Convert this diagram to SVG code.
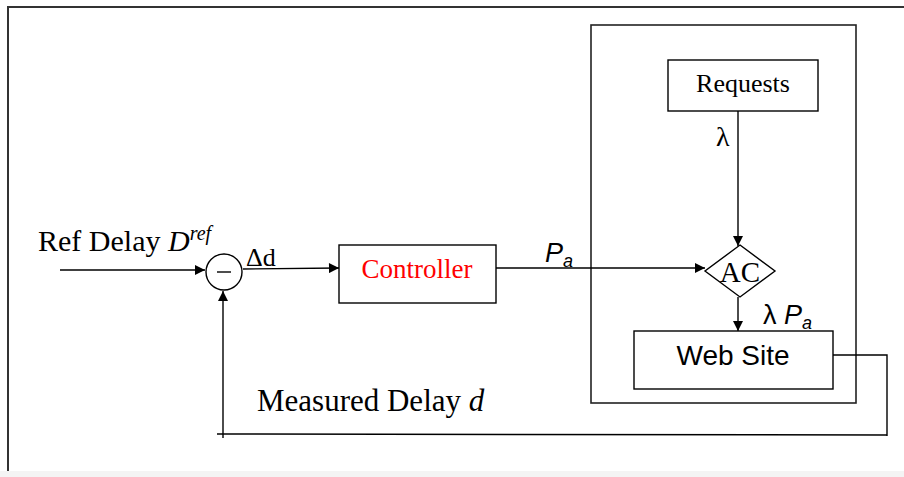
<svg xmlns="http://www.w3.org/2000/svg" width="904" height="477" viewBox="0 0 904 477">
<style>
.box{fill:#fff;stroke:#000;stroke-width:1.4}
.ln{fill:none;stroke:#000;stroke-width:1.4}
.frame{fill:none;stroke:#333;stroke-width:2}
.tr{font-family:"Liberation Serif",serif;fill:#000}
.ar{font-family:"Liberation Sans",sans-serif;fill:#000}
</style>
<defs>
<marker id="ah" viewBox="0 0 10 10" refX="10" refY="5" markerWidth="12" markerHeight="10" markerUnits="userSpaceOnUse" orient="auto">
<path d="M0,0 L10,5 L0,10 z" fill="#000"/>
</marker>
</defs>
<rect x="0" y="0" width="904" height="477" fill="#fff"/>
<rect x="0" y="471" width="904" height="6" fill="#f4f4f4"/>
<path class="frame" d="M8,471 V7 H904"/>
<g id="system">
<rect class="box" x="591" y="25" width="265" height="378" style="stroke:#222;stroke-width:1.6"/>
</g>
<g id="connectors">
<line class="ln" x1="60" y1="270" x2="205" y2="270" marker-end="url(#ah)"/>
<line class="ln" x1="243" y1="269" x2="339" y2="268" marker-end="url(#ah)"/>
<line class="ln" x1="496" y1="268" x2="705" y2="268" marker-end="url(#ah)"/>
<line class="ln" x1="738" y1="111" x2="738" y2="246" marker-end="url(#ah)"/>
<line class="ln" x1="738" y1="297" x2="738" y2="331" marker-end="url(#ah)"/>
<path class="ln" d="M833,355 H887 V436"/>
<line class="ln" x1="887" y1="435" x2="217" y2="434"/>
<line class="ln" x1="223" y1="438" x2="223" y2="291" marker-end="url(#ah)"/>
</g>
<g id="sum">
<circle class="box" cx="224" cy="272" r="18"/>
<line class="ln" x1="217" y1="272" x2="231" y2="272"/>
</g>
<g id="controller">
<rect class="box" x="339" y="245" width="157" height="58"/>
<text class="tr" x="417" y="278" font-size="27" text-anchor="middle" fill="#ff0000" style="fill:#ff0000">Controller</text>
</g>
<g id="requests">
<rect class="box" x="668" y="60" width="150" height="51"/>
<text class="tr" x="743" y="92" font-size="26" text-anchor="middle">Requests</text>
</g>
<g id="ac">
<polygon class="box" points="740,245 775,271 740,297 705,271"/>
<text class="tr" x="740" y="282" font-size="29" text-anchor="middle">AC</text>
</g>
<g id="website">
<rect class="box" x="634" y="331" width="199" height="58"/>
<text class="ar" x="733" y="365" font-size="28" text-anchor="middle">Web Site</text>
</g>
<g id="labels">
<text class="tr" x="38" y="251" font-size="30">Ref Delay <tspan font-style="italic">D</tspan><tspan font-style="italic" font-size="20" dy="-11">ref</tspan></text>
<text class="tr" x="246" y="266" font-size="26">Δd</text>
<text class="ar" x="545" y="262" font-size="27" font-style="italic">P<tspan font-size="18" dy="5">a</tspan></text>
<text class="tr" x="716" y="146" font-size="28">λ</text>
<text class="ar" x="763" y="324" font-size="27">λ <tspan font-style="italic">P</tspan><tspan font-style="italic" font-size="18" dy="5">a</tspan></text>
<text class="tr" x="257" y="411" font-size="31">Measured Delay <tspan font-style="italic">d</tspan></text>
</g>
</svg>
